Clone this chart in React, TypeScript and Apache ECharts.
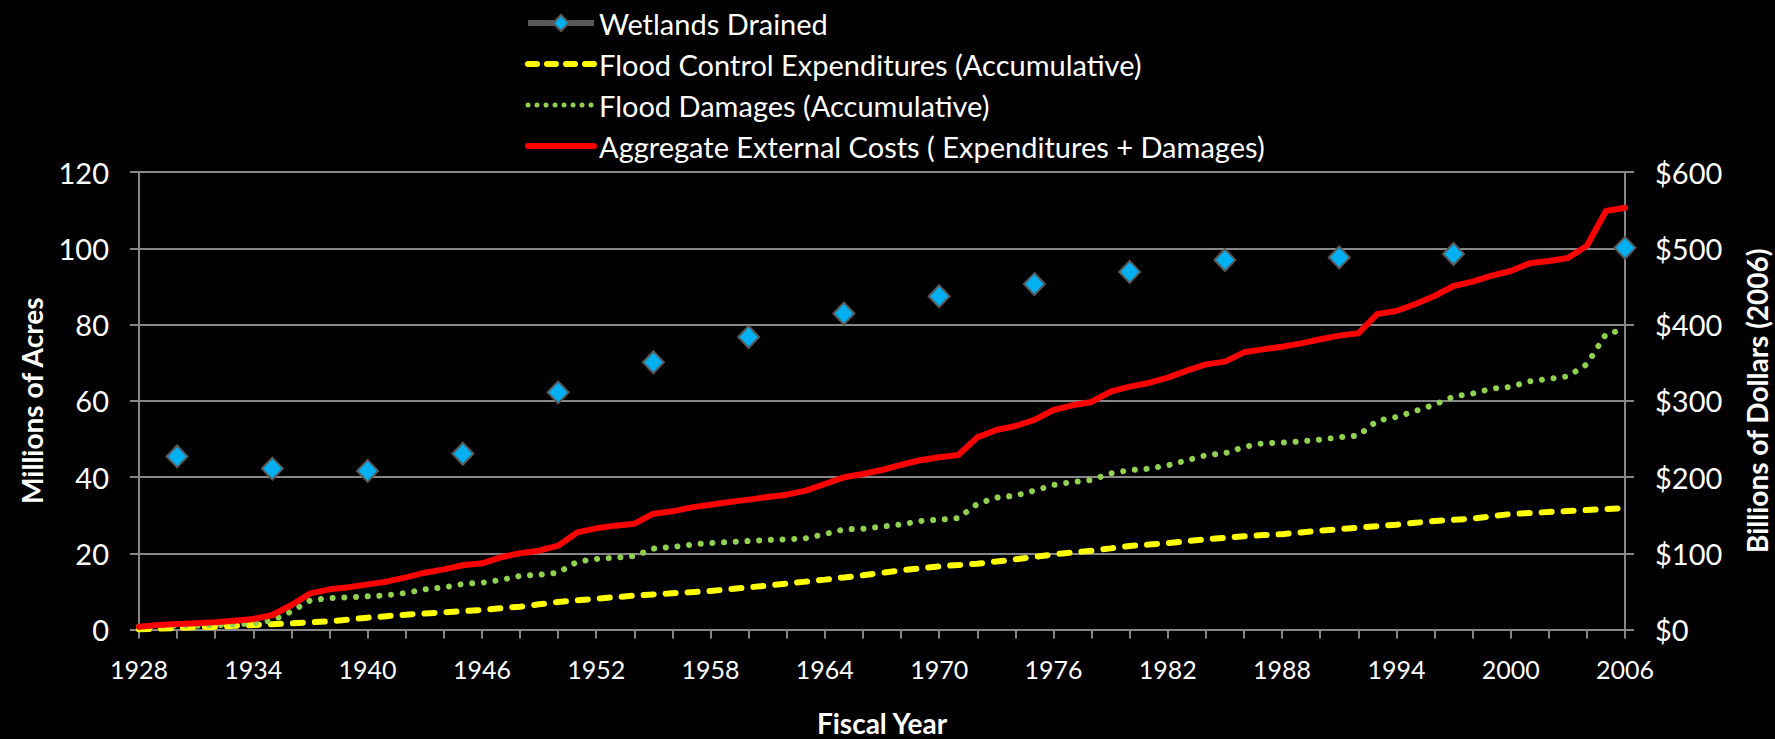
import React, { useEffect, useRef } from "react";
import * as echarts from "echarts";

const years = [
  "1928", "1929", "1930", "1931", "1932", "1933", "1934", "1935", "1936", "1937",
  "1938", "1939", "1940", "1941", "1942", "1943", "1944", "1945", "1946", "1947",
  "1948", "1949", "1950", "1951", "1952", "1953", "1954", "1955", "1956", "1957",
  "1958", "1959", "1960", "1961", "1962", "1963", "1964", "1965", "1966", "1967",
  "1968", "1969", "1970", "1971", "1972", "1973", "1974", "1975", "1976", "1977",
  "1978", "1979", "1980", "1981", "1982", "1983", "1984", "1985", "1986", "1987",
  "1988", "1989", "1990", "1991", "1992", "1993", "1994", "1995", "1996", "1997",
  "1998", "1999", "2000", "2001", "2002", "2003", "2004", "2005", "2006",
];

// Millions of acres (left axis)
const wetlandYears = ["1930", "1935", "1940", "1945", "1950", "1955", "1960", "1965", "1970", "1975", "1980", "1985", "1991", "1997", "2006"];
const wetlandValues = [45.4, 42.2, 41.6, 46.1, 62.2, 70.1, 76.7, 82.9, 87.4, 90.6, 93.8, 96.9, 97.6, 98.5, 100.1];

// Billions of dollars (right axis)
const floodControl = [
  0, 1.0, 2.0, 3.0, 3.7, 4.8, 5.9, 7.0, 8.1, 9.5,
  10.7, 13.0, 15.5, 17.5, 19.5, 21.0, 22.5, 24.0, 25.6, 27.8,
  29.9, 33.0, 36.1, 38.3, 40.4, 42.4, 44.4, 46.0, 47.5, 49.0,
  50.5, 52.9, 55.3, 57.7, 60.1, 62.8, 65.4, 68.2, 71.1, 74.3,
  77.6, 80.2, 82.8, 84.5, 86.3, 89.1, 92.0, 95.2, 98.5, 101.0,
  103.4, 106.4, 109.5, 111.4, 113.4, 115.8, 118.2, 120.2, 122.2, 123.8,
  125.0, 127.3, 129.6, 131.6, 133.6, 135.5, 137.5, 139.9, 142.3, 143.8,
  145.4, 148.4, 151.5, 152.8, 154.1, 155.4, 156.7, 158.0, 159.3,
];
const floodDamages = [
  3.5, 4.9, 5.2, 5.1, 5.7, 6.8, 7.9, 12.0, 23.8, 38.3,
  41.3, 42.2, 43.5, 44.8, 47.9, 52.7, 55.3, 59.7, 61.4, 64.9,
  70.3, 71.9, 74.5, 88.9, 92.5, 94.2, 96.4, 106.0, 108.2, 111.3,
  113.4, 114.8, 116.1, 117.4, 118.3, 119.6, 125.2, 131.3, 132.2, 134.9,
  137.7, 142.3, 144.0, 146.0, 164.6, 172.9, 175.5, 182.1, 189.5, 193.4,
  196.1, 204.8, 208.8, 210.9, 215.3, 221.9, 228.5, 231.1, 239.3, 244.2,
  245.0, 246.8, 249.0, 252.0, 254.2, 273.9, 278.7, 286.6, 294.9, 305.4,
  309.4, 315.9, 318.2, 325.6, 328.6, 332.1, 347.8, 387.5, 393.7,
];
const aggregateCosts = [
  3.7, 5.9, 7.2, 8.1, 9.4, 11.6, 13.8, 19.0, 32.1, 47.4,
  52.7, 55.3, 59.2, 62.7, 68.4, 74.5, 78.9, 84.2, 86.8, 94.7,
  100.0, 103.4, 109.9, 127.4, 132.7, 136.2, 138.8, 151.9, 155.0, 160.2,
  163.7, 167.2, 170.3, 173.8, 176.8, 182.1, 190.8, 199.6, 203.9, 209.2,
  216.0, 222.0, 225.8, 228.9, 252.0, 261.6, 266.9, 274.8, 287.9, 294.0,
  298.4, 311.9, 318.5, 323.3, 330.3, 339.5, 347.7, 351.3, 363.5, 367.4,
  370.9, 375.3, 380.6, 385.4, 388.4, 413.8, 417.7, 426.9, 437.4, 450.5,
  456.2, 464.0, 470.2, 480.3, 483.3, 487.2, 503.4, 548.9, 553.2,
];

const leftTicks = { min: 0, max: 120, interval: 20 };
const rightTicks = { min: 0, max: 600, interval: 100 };

const GRID = "#878787";
const FONT = "Lato, 'Open Sans', sans-serif";

const YELLOW_LINE = { color: "#FFFF00", width: 6, type: [10, 12], cap: "round" };
const GREEN_LINE = { color: "#92D050", width: 6, type: [0.01, 11.7], cap: "round" };
const RED_LINE = { color: "#FF0000", width: 6, join: "round", cap: "round" };

export default function App() {
  const ref = useRef<HTMLDivElement>(null);
  useEffect(() => {
    if (!ref.current) return;
    const chart = echarts.init(ref.current, undefined, { renderer: "svg" });
    const wetlandData = years.map((y) => {
      const i = wetlandYears.indexOf(y);
      return i >= 0 ? wetlandValues[i] : null;
    });
    const axisLineStyle = { show: true, lineStyle: { color: GRID, width: 2 } };
    const tickStyle = { show: true, length: 9, lineStyle: { color: GRID, width: 2 } };
    const titleStyle = { color: "#ffffff", fontSize: 28, fontWeight: "bold", fontFamily: FONT, lineHeight: 30 };
    chart.setOption({
      animation: false,
      backgroundColor: "#000000",
      textStyle: { fontFamily: FONT },
      legend: {
        orient: "vertical",
        left: 520,
        top: 2,
        itemWidth: 66,
        itemHeight: 20,
        itemGap: 9,
        textStyle: { color: "#ffffff", fontSize: 29, lineHeight: 32, fontFamily: FONT },
        data: [
          {
            name: "Wetlands Drained",
            lineStyle: { color: "#595959", width: 6, opacity: 1 },
          },
          {
            name: "Flood Control Expenditures (Accumulative)",
            lineStyle: { ...YELLOW_LINE, type: [9, 10] },
            itemStyle: { opacity: 0 },
          },
          {
            name: "Flood Damages (Accumulative)",
            lineStyle: { ...GREEN_LINE, width: 5, type: [0.01, 9] },
            itemStyle: { opacity: 0 },
          },
          {
            name: "Aggregate External Costs ( Expenditures + Damages)",
            lineStyle: RED_LINE,
            itemStyle: { opacity: 0 },
          },
        ],
      },
      grid: {
        left: 139,
        right: 150,
        top: 172,
        bottom: 109.5,
        containLabel: false,
        outerBoundsMode: "none",
      },
      xAxis: {
        type: "category",
        data: years,
        boundaryGap: false,
        axisLine: axisLineStyle,
        axisTick: { ...tickStyle, interval: 1 },
        axisLabel: { interval: 5, color: "#ffffff", fontSize: 25, margin: 27, fontFamily: FONT },
        splitLine: { show: false },
        name: "Fiscal Year",
        nameLocation: "middle",
        nameGap: 78,
        nameTextStyle: titleStyle,
      },
      yAxis: [
        {
          type: "value",
          position: "left",
          ...leftTicks,
          axisLine: axisLineStyle,
          axisTick: tickStyle,
          splitLine: { show: true, lineStyle: { color: GRID, width: 2 } },
          axisLabel: { color: "#ffffff", fontSize: 29, margin: 30, fontFamily: FONT },
          name: "Millions of Acres",
          nameLocation: "middle",
          nameRotate: 90,
          nameGap: 92,
          nameTextStyle: titleStyle,
        },
        {
          type: "value",
          position: "right",
          ...rightTicks,
          axisLine: axisLineStyle,
          axisTick: tickStyle,
          splitLine: { show: false },
          axisLabel: {
            color: "#ffffff",
            fontSize: 29,
            margin: 30,
            fontFamily: FONT,
            formatter: (v: number) => "$" + v,
          },
          name: "Billions of Dollars (2006)",
          nameLocation: "middle",
          nameRotate: 90,
          nameGap: 117,
          nameTextStyle: titleStyle,
        },
      ],
      series: [
        {
          name: "Wetlands Drained",
          type: "line",
          yAxisIndex: 0,
          data: wetlandData,
          connectNulls: false,
          showAllSymbol: true,
          symbol: "diamond",
          symbolSize: [21, 22],
          itemStyle: { color: "#00B0F0", borderColor: "#595959", borderWidth: 2 },
          lineStyle: { opacity: 0, color: "#595959", width: 5 },
          z: 5,
        },
        {
          name: "Flood Control Expenditures (Accumulative)",
          type: "line",
          yAxisIndex: 1,
          data: floodControl,
          symbol: "none",
          itemStyle: { color: "#FFFF00" },
          lineStyle: YELLOW_LINE,
          z: 2,
        },
        {
          name: "Flood Damages (Accumulative)",
          type: "line",
          yAxisIndex: 1,
          data: floodDamages,
          symbol: "none",
          itemStyle: { color: "#92D050" },
          lineStyle: GREEN_LINE,
          z: 3,
        },
        {
          name: "Aggregate External Costs ( Expenditures + Damages)",
          type: "line",
          yAxisIndex: 1,
          data: aggregateCosts,
          symbol: "none",
          itemStyle: { color: "#FF0000" },
          lineStyle: RED_LINE,
          z: 4,
        },
      ],
    });
    return () => chart.dispose();
  }, []);
  return (
    <div
      ref={ref}
      style={{ position: "fixed", left: 0, top: 0, width: 1775, height: 739, background: "#000" }}
    />
  );
}
